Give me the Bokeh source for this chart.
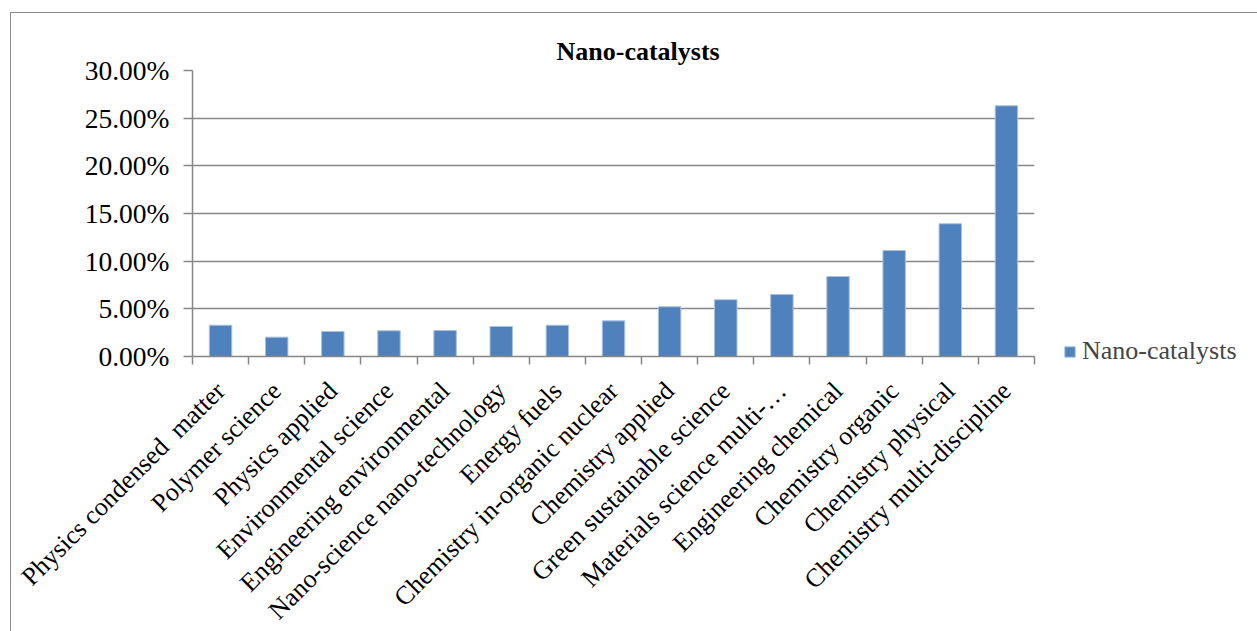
import math
from bokeh.plotting import figure
from bokeh.models import (FixedTicker, NumeralTickFormatter, Legend, LegendItem,
                          Range1d, ColumnDataSource)
from bokeh.embed import file_html
from bokeh.resources import INLINE

categories = [
    "Physics condensed \u00a0matter",
    "Polymer science",
    "Physics applied",
    "Environmental science",
    "Engineering environmental",
    "Nano-science nano-technology",
    "Energy fuels",
    "Chemistry in-organic nuclear",
    "Chemistry applied",
    "Green sustainable science",
    "Materials science multi-…",
    "Engineering chemical",
    "Chemistry organic",
    "Chemistry physical",
    "Chemistry multi-discipline",
]
values = [0.0328, 0.0203, 0.0262, 0.0270, 0.0273, 0.0315, 0.0328, 0.0374,
          0.0522, 0.0595, 0.0650, 0.0839, 0.1112, 0.1392, 0.2630]
y_ticks = [0.0, 0.05, 0.10, 0.15, 0.20, 0.25, 0.30]
series_name = "Nano-catalysts"
title_text = "Nano-catalysts"

FONT = "Liberation Serif"
GRAY = "#868686"
BAR = "#4F81BD"

n = len(categories)
positions = list(range(1, n + 1))
src = ColumnDataSource(dict(x=positions, top=values, cat=categories))

p = figure(frame_width=842, frame_height=286, output_backend="svg", toolbar_location=None,
           x_range=Range1d(0.5, n + 0.5), y_range=Range1d(y_ticks[0], y_ticks[-1]),
           min_border_left=181, min_border_right=0, min_border_top=57,
           min_border_bottom=255, title=title_text)
p.margin = (12, 0, 0, 10)
p.styles = {"border-left": "1px solid #8a8a8a", "border-top": "1px solid #8a8a8a"}

r = p.vbar(x="x", top="top", width=0.4, source=src, fill_color=BAR,
           line_color="#A9C2E0", line_width=1)

p.title.text_font = FONT
p.title.text_font_style = "bold"
p.title.text_font_size = "26px"
p.title.align = "left"
p.title.offset = 364
p.title.text_color = "black"

p.outline_line_color = None
p.xgrid.visible = False
p.ygrid.grid_line_color = GRAY
p.ygrid.grid_line_width = 1.5
p.ygrid.ticker = FixedTicker(ticks=y_ticks)

ya = p.yaxis[0]
ya.ticker = FixedTicker(ticks=y_ticks)
ya.formatter = NumeralTickFormatter(format="0.00%")
ya.major_label_text_font = FONT
ya.major_label_text_font_size = "27.5px"
ya.major_label_text_color = "black"
ya.axis_line_color = GRAY
ya.axis_line_width = 1.5
ya.major_tick_line_color = GRAY
ya.major_tick_line_width = 1.5
ya.major_tick_out = 9
ya.major_tick_in = 0
ya.minor_tick_line_color = None
ya.major_label_standoff = 14

xa = p.xaxis[0]
xa.ticker = FixedTicker(ticks=positions, minor_ticks=[i + 0.5 for i in range(n + 1)])
xa.major_label_overrides = {pos: cat for pos, cat in zip(positions, categories)}
xa.major_label_orientation = math.pi / 4
xa.major_label_text_font = FONT
xa.major_label_text_font_size = "26px"
xa.major_label_text_color = "black"
xa.major_tick_line_color = None
xa.major_tick_out = 0
xa.major_tick_in = 0
xa.minor_tick_line_color = GRAY
xa.minor_tick_line_width = 1.5
xa.minor_tick_out = 8
xa.minor_tick_in = 0
xa.axis_line_color = GRAY
xa.axis_line_width = 1.5
xa.major_label_standoff = 22

legend = Legend(items=[LegendItem(label=series_name, renderers=[r])],
                location=(29, -10), glyph_width=13, glyph_height=13,
                label_text_font=FONT, label_text_font_size="26px",
                label_standoff=6, padding=5, margin=0,
                border_line_color=None, background_fill_alpha=0)
p.add_layout(legend, "right")

open("out.html", "w").write(file_html(p, INLINE))
